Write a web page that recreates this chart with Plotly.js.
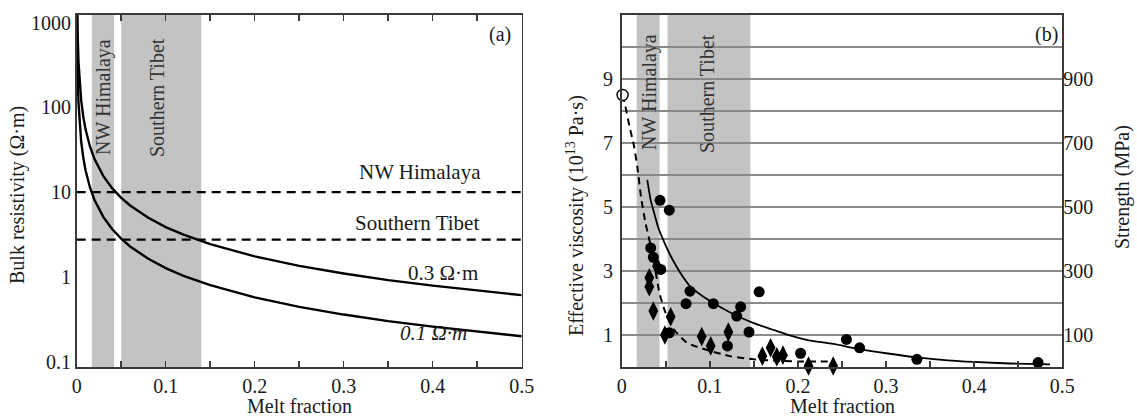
<!DOCTYPE html>
<html>
<head>
<meta charset="utf-8">
<script src="https://cdn.plot.ly/plotly-3.0.1.min.js"></script>
<style>html,body{margin:0;padding:0;background:#fff;}#chart{width:1137px;height:417px;}</style>
</head>
<body>
<div id="chart"></div>
<script>
// ---------- Panel (a): bulk resistivity vs melt fraction ----------
const meltA = [0.0002,0.0003,0.0005,0.0007,0.001,0.002,0.003,0.005,0.0075,0.01,0.015,0.02,0.03,0.04,0.05,0.06,0.08,0.1,0.12,0.15,0.2,0.25,0.3,0.35,0.4,0.45,0.5];
const rhoMelt01 = [1618,1014,564,383,254,115,71.8,39.9,25.1,18.0,11.3,8.1,5.08,3.65,2.83,2.29,1.65,1.27,1.03,0.80,0.574,0.444,0.360,0.301,0.259,0.226,0.200];
const rhoMelt03 = [4932,3090,1718,1167,774,349,219,122,76.4,54.8,34.4,24.7,15.5,11.1,8.6,6.98,5.02,3.88,3.15,2.44,1.75,1.35,1.10,0.918,0.789,0.689,0.61];
const obsX = [0, 0.5];
const obsNWHimalaya = [10, 10];
const obsSouthernTibet = [2.75, 2.75];
const bandsA = [[0.017, 0.042], [0.05, 0.14]];
const yTickValsA = [0.1, 1, 10, 100, 1000];
const yTickTextA = ['0.1', '1', '10', '100', '1000'];

// ---------- Panel (b): effective viscosity vs melt fraction ----------
const dashX = [0.001,0.003,0.009,0.014,0.018,0.022,0.027,0.032,0.036,0.043,0.049,0.059,0.074,0.097,0.123,0.15,0.18,0.21,0.24];
const dashY = [8.5,8.3,7.5,6.9,6.2,5.3,4.5,3.9,3.36,2.3,1.75,1.18,0.76,0.53,0.34,0.24,0.19,0.17,0.17];
const solidX = [0.029,0.033,0.036,0.041,0.047,0.055,0.062,0.07,0.0775,0.09,0.104,0.12,0.13,0.149,0.17,0.187,0.21,0.24,0.27,0.3,0.335,0.37,0.4,0.44,0.486];
const solidY = [5.85,5.2,4.9,4.4,3.98,3.5,3.15,2.8,2.53,2.25,2.0,1.75,1.61,1.38,1.18,1.02,0.85,0.72,0.56,0.43,0.3,0.21,0.16,0.11,0.08];
const circX = [0.0435,0.054,0.0329,0.0359,0.0443,0.0775,0.073,0.104,0.135,0.1305,0.156,0.1445,0.12,0.054,0.203,0.255,0.27,0.335,0.4725];
const circY = [5.21,4.9,3.72,3.43,3.05,2.37,1.98,1.98,1.88,1.59,2.35,1.09,0.66,1.07,0.43,0.86,0.6,0.24,0.14];
const diaX = [0.0313,0.0313,0.0359,0.040,0.0556,0.049,0.0908,0.101,0.121,0.1596,0.169,0.176,0.183,0.212,0.24];
const diaY = [2.79,2.51,1.75,3.15,1.57,1.0,0.95,0.66,1.09,0.34,0.6,0.32,0.37,0.03,0.03];
const openX = [0.001];
const openY = [8.5];
const bandsB = [[0.017, 0.043], [0.052, 0.146]];
const yTickValsB = [1,2,3,4,5,6,7,8,9,10];
const yTickTextB = ['1',' ','3',' ','5',' ','7',' ','9',' '];
const strengthTicks = [100, 300, 500, 700, 900];

const xTickVals = [0,0.05,0.1,0.15,0.2,0.25,0.3,0.35,0.4,0.45,0.5];
const xTickText = ['0',' ','0.1',' ','0.2',' ','0.3',' ','0.4',' ','0.5'];

const W = 1137, H = 417;
const px = v => v / W;
const py = v => 1 - v / H;
const FONT = 'Liberation Serif, Times New Roman, serif';
const INK = '#1a1a1a';

const traces = [
  {x: meltA, y: rhoMelt03, xaxis: 'x', yaxis: 'y', mode: 'lines', line: {color: '#000', width: 2.4}, hoverinfo: 'skip'},
  {x: meltA, y: rhoMelt01, xaxis: 'x', yaxis: 'y', mode: 'lines', line: {color: '#000', width: 2.4}, hoverinfo: 'skip'},
  {x: obsX, y: obsNWHimalaya, xaxis: 'x', yaxis: 'y', mode: 'lines', line: {color: '#000', width: 2.2, dash: '9px,6px'}},
  {x: obsX, y: obsSouthernTibet, xaxis: 'x', yaxis: 'y', mode: 'lines', line: {color: '#000', width: 2.2, dash: '9px,6px'}},

  {x: solidX, y: solidY, xaxis: 'x2', yaxis: 'y2', mode: 'lines', line: {color: '#000', width: 1.8, shape: 'spline', smoothing: 0.6}},
  {x: dashX, y: dashY, xaxis: 'x2', yaxis: 'y2', mode: 'lines', line: {color: '#000', width: 2, dash: '7px,5px', shape: 'spline', smoothing: 0.6}},
  {x: circX, y: circY, xaxis: 'x2', yaxis: 'y2', mode: 'markers', cliponaxis: false, marker: {symbol: 'circle', size: 11, color: '#000'}},
  {x: diaX, y: diaY, xaxis: 'x2', yaxis: 'y2', mode: 'markers', cliponaxis: false, marker: {symbol: 'diamond-tall', size: 14, color: '#000'}},
  {x: openX, y: openY, xaxis: 'x2', yaxis: 'y2', mode: 'markers', cliponaxis: false, marker: {symbol: 'circle', size: 11, color: '#fff', line: {color: '#000', width: 1.4}}},
  {x: [0.25], y: [550], xaxis: 'x2', yaxis: 'y3', mode: 'markers', marker: {opacity: 0}, hoverinfo: 'skip'}
];

const shapes = [];
bandsA.forEach(b => shapes.push({type: 'rect', xref: 'x', yref: 'paper', x0: b[0], x1: b[1], y0: py(367), y1: py(15), fillcolor: '#c3c3c3', line: {width: 0}, layer: 'below'}));
bandsB.forEach(b => shapes.push({type: 'rect', xref: 'x2', yref: 'paper', x0: b[0], x1: b[1], y0: py(367), y1: py(15), fillcolor: '#c3c3c3', line: {width: 0}, layer: 'below'}));

function ann(text, x, y, size, angle, extra) {
  return Object.assign({text: text, xref: 'paper', yref: 'paper', x: px(x), y: py(y), xanchor: 'center', yanchor: 'middle',
    showarrow: false, textangle: angle || 0, font: {family: FONT, size: size, color: INK}}, extra || {});
}
const bandFont = {font: {family: FONT, size: 20, color: '#333'}};

const annotations = [
  ann('NW Himalaya', 103, 97, 20, -90, bandFont),
  ann('Southern Tibet', 157, 98, 20, -90, bandFont),
  ann('NW Himalaya', 650, 92, 20, -90, bandFont),
  ann('Southern Tibet', 707, 94, 20, -90, bandFont),
  ann('NW Himalaya', 420, 172, 21),
  ann('Southern Tibet', 417, 223, 21),
  ann('0.3 Ω·m', 443, 273, 21),
  ann('<i>0.1 Ω·m</i>', 433, 333, 21),
  ann('(a)', 500, 34, 20),
  ann('(b)', 1046, 34, 20),
  ann('Bulk resistivity (Ω·m)', 17, 195, 20, -90),
  ann('Effective viscosity (10<sup>13</sup> Pa·s)', 575, 216, 20, -90),
  ann('Strength (MPa)', 1122, 187, 20, -90),
  ann('Melt fraction', 299, 406, 20),
  ann('Melt fraction', 842, 406, 20)
];

const axLine = {showline: true, linecolor: '#3a3a3a', linewidth: 1.6};
const tickFont = {family: FONT, size: 20, color: INK};

const layout = {
  width: W, height: H,
  margin: {l: 0, r: 0, t: 0, b: 0},
  paper_bgcolor: '#fff', plot_bgcolor: 'rgba(0,0,0,0)',
  showlegend: false,
  font: {family: FONT, color: INK},
  xaxis: Object.assign({domain: [px(76.7), px(521.7)], range: [0, 0.5], anchor: 'y', mirror: 'ticks',
    tickmode: 'array', tickvals: xTickVals, ticktext: xTickText, ticks: 'inside', ticklen: 6, tickwidth: 1.5, tickcolor: '#3a3a3a',
    showgrid: false, zeroline: false, tickfont: tickFont}, axLine),
  yaxis: Object.assign({domain: [py(367), py(15)], type: 'log', range: [-1.0625, 3.091], anchor: 'x', mirror: true,
    tickmode: 'array', tickvals: yTickValsA, ticktext: yTickTextA, ticks: '', showgrid: false, zeroline: false, tickfont: tickFont}, axLine),
  xaxis2: Object.assign({domain: [px(621.7), px(1062.3)], range: [0, 0.5], anchor: 'y2', mirror: true,
    tickmode: 'array', tickvals: xTickVals, ticktext: xTickText, ticks: 'inside', ticklen: 6, tickwidth: 1.5, tickcolor: '#3a3a3a',
    showgrid: false, zeroline: false, tickfont: tickFont}, axLine),
  yaxis2: Object.assign({domain: [py(367), py(15)], range: [0, 11], anchor: 'x2', mirror: true,
    tickmode: 'array', tickvals: yTickValsB, ticktext: yTickTextB, ticks: '', showgrid: true, gridcolor: '#8a8a8a', gridwidth: 1.5,
    zeroline: false, tickfont: tickFont, ticklabelstandoff: 3}, axLine),
  yaxis3: {overlaying: 'y2', anchor: 'x2', side: 'right', range: [0, 1100], tickmode: 'array', tickvals: strengthTicks,
    ticks: '', showgrid: false, zeroline: false, showline: false, tickfont: tickFont},
  shapes: shapes,
  annotations: annotations
};

Plotly.newPlot('chart', traces, layout, {displayModeBar: false, staticPlot: true});
</script>
</body>
</html>
